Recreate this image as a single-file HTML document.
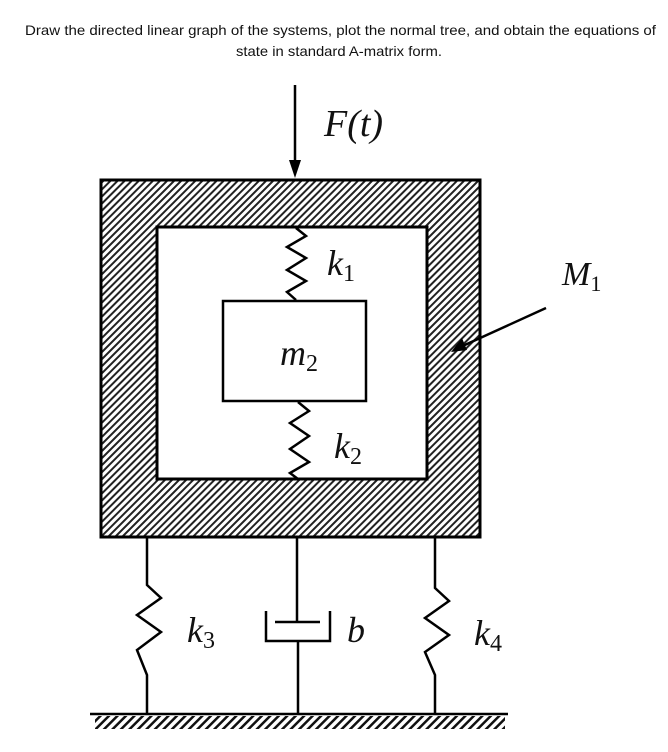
<!DOCTYPE html>
<html><head><style>body{margin:0;background:#fff}svg{display:block}</style></head>
<body>
<svg width="668" height="752" viewBox="0 0 668 752" xmlns="http://www.w3.org/2000/svg">
<defs>
<pattern id="h" width="5" height="5" patternUnits="userSpaceOnUse" patternTransform="rotate(45)">
<rect width="5" height="5" fill="#fff"/><rect x="0" y="0" width="2" height="5" fill="#222"/>
</pattern>
<pattern id="g" width="6" height="6" patternUnits="userSpaceOnUse" patternTransform="rotate(45)">
<rect width="6" height="6" fill="#fff"/><rect x="0" y="0" width="2.5" height="6" fill="#111"/>
</pattern>
</defs>
<g font-family="Liberation Sans, sans-serif" font-size="14" fill="#111">
<text x="25" y="35" textLength="631" lengthAdjust="spacingAndGlyphs">Draw the directed linear graph of the systems, plot the normal tree, and obtain the equations of</text>
<text x="236" y="56" textLength="206" lengthAdjust="spacingAndGlyphs">state in standard A-matrix form.</text>
</g>
<rect x="101" y="180" width="379" height="357" fill="url(#h)" stroke="#000" stroke-width="3"/>
<rect x="157" y="227" width="270" height="252" fill="#fff" stroke="#000" stroke-width="3"/>
<rect x="223" y="301" width="143" height="100" fill="#fff" stroke="#000" stroke-width="2.5"/>
<g fill="none" stroke="#000" stroke-width="2.5">
<line x1="295" y1="85" x2="295" y2="170"/>
<polyline points="296,228 306,236 287,247 306,258 287,270 306,281 287,292 296,300"/>
<polyline points="298,402 309,411 290,423 309,436 290,449 309,462 290,473 298,479"/>
<polyline points="147,537 147,585 161,598 137,615 161,632 137,650 147,675 147,713"/>
<polyline points="435,537 435,588 449,601 425,618 449,635 425,652 435,675 435,713"/>
<line x1="297" y1="537" x2="297" y2="622"/>
<line x1="298" y1="641" x2="298" y2="713"/>
<polyline points="266,611 266,641 330,641 330,611"/>
<line x1="275" y1="622" x2="320" y2="622"/>
<line x1="90" y1="714" x2="508" y2="714"/>
<line x1="546" y1="308" x2="456" y2="349"/>
</g>
<polygon points="295,178 289,160 301,160" fill="#000"/>
<polygon points="451,352 462,338 467,350" fill="#000"/>
<rect x="95" y="716" width="410" height="13" fill="url(#g)"/>
<g font-family="Liberation Serif, serif" font-style="italic" fill="#111">
<text x="324" y="136" font-size="38">F(t)</text>
<text x="327" y="275" font-size="36">k<tspan font-style="normal" font-size="24" dy="6">1</tspan></text>
<text x="280" y="365" font-size="36">m<tspan font-style="normal" font-size="24" dy="6">2</tspan></text>
<text x="334" y="458" font-size="36">k<tspan font-style="normal" font-size="24" dy="6">2</tspan></text>
<text x="187" y="642" font-size="36">k<tspan font-style="normal" font-size="24" dy="6">3</tspan></text>
<text x="347" y="642" font-size="36">b</text>
<text x="474" y="645" font-size="36">k<tspan font-style="normal" font-size="24" dy="6">4</tspan></text>
<text x="562" y="285" font-size="34">M<tspan font-style="normal" font-size="22" dy="6">1</tspan></text>
</g>
</svg>
</body></html>
